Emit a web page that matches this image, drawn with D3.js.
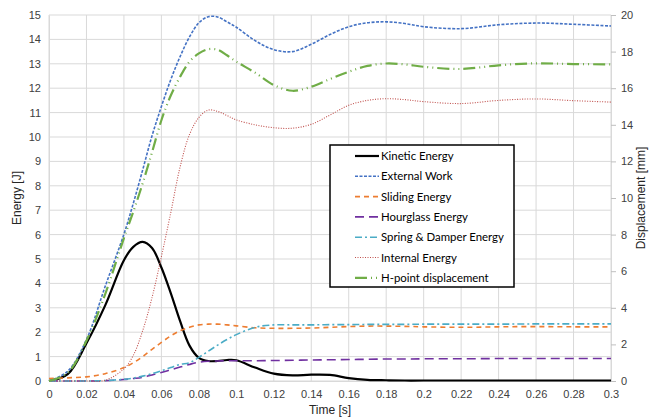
<!DOCTYPE html>
<html>
<head>
<meta charset="utf-8">
<script src="https://cdn.jsdelivr.net/npm/d3@7"></script>
<style>
  body { margin: 0; background: #fff; }
  text { font-family: "Liberation Sans", Arial, sans-serif; }
</style>
</head>
<body>
<div id="chart"></div>
<script>
"use strict";

// time samples [s], shared by every series
var times = [0, 0.01, 0.02, 0.03, 0.04, 0.045, 0.05, 0.055, 0.06, 0.065, 0.07, 0.075, 0.08, 0.085, 0.09, 0.095, 0.1,
  0.11, 0.12, 0.13, 0.14, 0.15, 0.16, 0.17, 0.18, 0.19, 0.2, 0.22, 0.24, 0.26, 0.28, 0.3];

// energies [J]
var kinetic = [0, 0.28, 1.55, 3.1, 4.95, 5.5, 5.7, 5.45, 4.65, 3.6, 2.45, 1.45, 0.95, 0.82, 0.82, 0.86, 0.85,
  0.55, 0.3, 0.23, 0.26, 0.25, 0.12, 0.05, 0.03, 0.02, 0.02, 0.02, 0.02, 0.02, 0.02, 0.02];
var externalWork = [0, 0.4, 1.7, 3.88, 6.02, 7.28, 8.65, 10.05, 11.25, 12.35, 13.3, 14.1, 14.68, 14.93, 14.92, 14.72, 14.5,
  13.95, 13.58, 13.5, 13.8, 14.2, 14.52, 14.68, 14.72, 14.65, 14.52, 14.44, 14.6, 14.67, 14.62, 14.55];
var sliding = [0.1, 0.13, 0.17, 0.3, 0.55, 0.75, 1.0, 1.3, 1.58, 1.85, 2.06, 2.2, 2.3, 2.33, 2.33, 2.3, 2.26,
  2.18, 2.16, 2.16, 2.17, 2.2, 2.23, 2.25, 2.25, 2.24, 2.22, 2.2, 2.22, 2.23, 2.22, 2.22];
var hourglass = [0, 0, 0, 0.01, 0.06, 0.1, 0.15, 0.25, 0.35, 0.46, 0.57, 0.68, 0.77, 0.81, 0.82, 0.83, 0.83,
  0.83, 0.84, 0.85, 0.86, 0.87, 0.88, 0.89, 0.9, 0.9, 0.91, 0.91, 0.92, 0.92, 0.92, 0.92];
var springDamper = [0, 0, 0, 0.02, 0.07, 0.12, 0.2, 0.3, 0.42, 0.55, 0.68, 0.75, 0.97, 1.22, 1.47, 1.7, 1.9,
  2.2, 2.3, 2.3, 2.3, 2.31, 2.31, 2.32, 2.32, 2.32, 2.33, 2.33, 2.33, 2.34, 2.34, 2.34];
var internal = [0, 0, 0, 0.03, 0.5, 1.05, 2.06, 3.42, 5.1, 6.9, 8.78, 10.1, 10.8, 11.1, 11.05, 10.88, 10.7,
  10.5, 10.38, 10.36, 10.52, 10.9, 11.3, 11.5, 11.57, 11.53, 11.45, 11.37, 11.5, 11.56, 11.49, 11.43];

// H-point displacement [mm], right axis
var hPoint = [0, 0.45, 2.2, 4.75, 7.81, 9.25, 10.8, 12.5, 14.25, 15.6, 16.63, 17.45, 17.9, 18.13, 18.1, 17.8, 17.45,
  16.85, 16.17, 15.86, 16.08, 16.5, 16.9, 17.22, 17.35, 17.3, 17.17, 17.05, 17.25, 17.36, 17.32, 17.3];

var xTicks = d3.range(0, 0.3001, 0.02);
var yTicks = d3.range(0, 16, 1);
var y2Ticks = d3.range(0, 21, 2);

var series = [
  { name: "Kinetic Energy", values: kinetic, axis: "left", color: "#000000", width: 2.2, dash: null },
  { name: "External Work", values: externalWork, axis: "left", color: "#4472C4", width: 1.6, dash: "3,1.5" },
  { name: "Sliding Energy", values: sliding, axis: "left", color: "#ED7D31", width: 1.6, dash: "5,4" },
  { name: "Hourglass Energy", values: hourglass, axis: "left", color: "#7030A0", width: 1.6, dash: "9,5" },
  { name: "Spring & Damper Energy", values: springDamper, axis: "left", color: "#4BACC6", width: 1.6, dash: "7,3,2,3" },
  { name: "Internal Energy", values: internal, axis: "left", color: "#C0504D", width: 1.1, dash: "1,1.5" },
  { name: "H-point displacement", values: hPoint, axis: "right", color: "#70AD47", width: 2.2, dash: "12,4,1,4,1,4" }
];

var width = 659, height = 419;
var margin = { left: 49, right: 48, top: 15, bottom: 38 };

var svg = d3.select("#chart").append("svg").attr("width", width).attr("height", height);

var x = d3.scaleLinear().domain([0, 0.3]).range([margin.left, width - margin.right]);
var y = d3.scaleLinear().domain([0, 15]).range([height - margin.bottom, margin.top]);
var y2 = d3.scaleLinear().domain([0, 20]).range([height - margin.bottom, margin.top]);

// grid
svg.append("g").selectAll("line").data(xTicks).enter().append("line")
  .attr("x1", function (d) { return x(d); }).attr("x2", function (d) { return x(d); })
  .attr("y1", y(0)).attr("y2", y(15))
  .style("stroke", "#d9d9d9").style("stroke-width", 1);
svg.append("g").selectAll("line").data(yTicks).enter().append("line")
  .attr("y1", function (d) { return y(d); }).attr("y2", function (d) { return y(d); })
  .attr("x1", x(0)).attr("x2", x(0.3))
  .style("stroke", "#d9d9d9").style("stroke-width", 1);

// axes
var xAxis = svg.append("g").attr("transform", "translate(0," + y(0) + ")")
  .call(d3.axisBottom(x).tickValues(xTicks).tickSize(0).tickPadding(9)
    .tickFormat(function (d) { return d3.format("~g")(+d.toFixed(2)); }));
var yAxis = svg.append("g").attr("transform", "translate(" + x(0) + ",0)")
  .call(d3.axisLeft(y).tickValues(yTicks).tickSize(0).tickPadding(8));
var y2Axis = svg.append("g").attr("transform", "translate(" + x(0.3) + ",0)")
  .call(d3.axisRight(y2).tickValues(y2Ticks).tickSize(5).tickPadding(5));

[xAxis, yAxis, y2Axis].forEach(function (a) {
  a.select(".domain").style("stroke", "#d9d9d9");
  a.selectAll(".tick line").style("stroke", "#bfbfbf");
  a.selectAll("text").style("font-size", "11px").style("fill", "#404040")
    .style("font-family", "'Liberation Sans', Arial, sans-serif");
});

// axis titles
svg.append("text").attr("x", x(0.15)).attr("y", 414).attr("text-anchor", "middle")
  .style("font-size", "12px").style("fill", "#262626").text("Time [s]");
svg.append("text").attr("transform", "translate(21," + y(7.5) + ") rotate(-90)").attr("text-anchor", "middle")
  .style("font-size", "12px").style("fill", "#262626").text("Energy [J]");
svg.append("text").attr("transform", "translate(645," + y(7.5) + ") rotate(-90)").attr("text-anchor", "middle")
  .style("font-size", "12px").style("fill", "#262626").text("Displacement [mm]");

// series lines
var lineGroup = svg.append("g");
series.forEach(function (s) {
  var ys = s.axis === "left" ? y : y2;
  var line = d3.line()
    .x(function (d, i) { return x(times[i]); })
    .y(function (d) { return ys(d); })
    .curve(d3.curveCatmullRom.alpha(0.5));
  lineGroup.append("path").datum(s.values).attr("d", line)
    .style("fill", "none").style("stroke", s.color).style("stroke-width", s.width)
    .style("stroke-dasharray", s.dash);
});

// legend
var legend = svg.append("g").attr("transform", "translate(330,145)");
legend.append("rect").attr("width", 184).attr("height", 142)
  .style("fill", "#fff").style("stroke", "#000").style("stroke-width", 1.5);
var items = legend.selectAll("g").data(series).enter().append("g")
  .attr("transform", function (d, i) { return "translate(0," + (11 + i * 20.3) + ")"; });
items.append("line").attr("x1", 25).attr("x2", 49).attr("y1", 0).attr("y2", 0)
  .style("stroke", function (d) { return d.color; })
  .style("stroke-width", function (d) { return d.width; })
  .style("stroke-dasharray", function (d) { return d.dash; });
items.append("text").attr("x", 51).attr("y", 4)
  .style("font-size", "11.4px").style("fill", "#000")
  .style("font-family", "Lato, 'Open Sans', sans-serif")
  .text(function (d) { return d.name; });
</script>
</body>
</html>
